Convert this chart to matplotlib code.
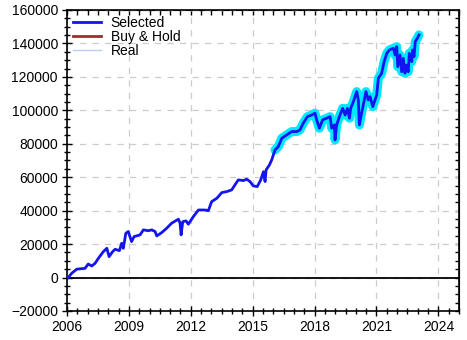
import matplotlib
matplotlib.use('Agg')
import matplotlib.pyplot as plt
from matplotlib.ticker import MultipleLocator, FixedLocator

plt.rcParams['font.family'] = ['Liberation Sans', 'DejaVu Sans']

# equity curve (decimal year, value)
years = [2006.06, 2006.23, 2006.47, 2006.87, 2007.03, 2007.20, 2007.36, 2007.52,
         2007.76, 2007.93, 2008.04, 2008.21, 2008.33, 2008.54, 2008.65, 2008.73,
         2008.85, 2008.97, 2009.13, 2009.25, 2009.54, 2009.70, 2009.94, 2010.11,
         2010.27, 2010.35, 2010.59, 2010.83, 2011.07, 2011.40, 2011.48, 2011.53,
         2011.61, 2011.77, 2011.88, 2012.12, 2012.37, 2012.69, 2012.85, 2013.01,
         2013.26, 2013.50, 2013.74, 2013.98, 2014.14, 2014.30, 2014.55, 2014.71,
         2014.87, 2015.03, 2015.22, 2015.39, 2015.52, 2015.60, 2015.65, 2015.81,
         2015.92, 2016.08, 2016.24, 2016.41, 2016.65, 2016.89, 2017.14, 2017.29,
         2017.45, 2017.65, 2017.86, 2018.02, 2018.10, 2018.23, 2018.39, 2018.59,
         2018.75, 2018.83, 2018.96, 2018.99, 2019.07, 2019.23, 2019.36, 2019.48,
         2019.59, 2019.69, 2019.75, 2019.88, 2020.04, 2020.12, 2020.17, 2020.28,
         2020.49, 2020.60, 2020.69, 2020.82, 2020.93, 2021.01, 2021.09, 2021.25,
         2021.37, 2021.50, 2021.62, 2021.82, 2021.90, 2021.98, 2022.03, 2022.14,
         2022.22, 2022.30, 2022.38, 2022.46, 2022.54, 2022.59, 2022.71, 2022.75,
         2022.82, 2022.88, 2022.98, 2023.06]
selected = [0, 2600, 5000, 5500, 8100, 6900, 8500, 11500,
            15500, 17500, 12500, 15500, 16900, 16100, 20500, 17500,
            26500, 27500, 21500, 24500, 25500, 28500, 28000, 28500,
            27500, 24900, 26900, 29500, 32500, 34900, 32500, 25500,
            33400, 33900, 31900, 36400, 40400, 40400, 40000, 45400,
            47400, 50800, 51400, 52400, 55400, 58400, 58000, 58800,
            57400, 54800, 54400, 58400, 63300, 57400, 64400, 67300,
            70300, 76300, 78300, 83300, 85300, 87300, 87300, 88300,
            92300, 96200, 97200, 98300, 94300, 89300, 94300, 95300,
            96200, 89300, 91300, 82300, 91300, 97200, 101200, 97200,
            101200, 95300, 101200, 105200, 111200, 106200, 91300, 98300,
            111200, 106200, 108200, 102200, 106200, 109200, 119200, 122200,
            129100, 134100, 136100, 137100, 133100, 138100, 126100, 133100,
            123100, 131100, 122200, 127100, 123100, 134100, 129100, 136100,
            132100, 141100, 143100, 145100]

x_ticks = [2006, 2009, 2012, 2015, 2018, 2021, 2024]
x_minor = [2006 + 0.5 * i for i in range(39)]

# highlighted stretch (cyan glow) starts here
highlight_start = 2015.95

fig = plt.figure(figsize=(4.67, 3.40), dpi=100)
ax = fig.add_axes([0.1435, 0.0853, 0.8394, 0.8853])

hx = [x for x in years if x >= highlight_start]
hy = [v for x, v in zip(years, selected) if x >= highlight_start]
ax.plot(hx, hy, color='#00e8ff', lw=6.5, solid_capstyle='round', solid_joinstyle='round', zorder=3)
ax.plot(years, selected, color='#1414f0', lw=2.0, zorder=4, label='Selected')
ax.plot([], [], color='#a52a2a', lw=2.0, label='Buy & Hold')
ax.plot([], [], color='#b9cdfa', lw=1.0, label='Real')

ax.axhline(0, color='black', lw=1.3, zorder=2)

ax.set_xlim(2006, 2025)
ax.set_ylim(-20000, 160000)
ax.xaxis.set_major_locator(FixedLocator(x_ticks))
ax.xaxis.set_minor_locator(FixedLocator(x_minor))
ax.yaxis.set_major_locator(MultipleLocator(20000))
ax.yaxis.set_minor_locator(MultipleLocator(5000))

ax.grid(True, which='major', color='#cccccc', linestyle=(0, (5, 5)), lw=0.9)
ax.set_axisbelow(True)
ax.tick_params(which='major', direction='inout', length=7, width=1, labelsize=10, pad=3)
ax.tick_params(which='minor', direction='inout', length=5, width=1)
for s in ax.spines.values():
    s.set_linewidth(1.2)

top = ax.secondary_xaxis('top')
top.xaxis.set_major_locator(FixedLocator(x_ticks))
top.xaxis.set_minor_locator(FixedLocator(x_minor))
top.tick_params(which='both', direction='in', labeltop=False, length=3.5, width=1)
right = ax.secondary_yaxis('right')
right.yaxis.set_major_locator(MultipleLocator(20000))
right.yaxis.set_minor_locator(MultipleLocator(5000))
right.tick_params(which='both', direction='in', labelright=False, length=3, width=1)

ax.legend(loc='upper left', frameon=False, fontsize=10, handlelength=2.0,
          handletextpad=0.7, labelspacing=0.0, borderaxespad=0.05,
          borderpad=0.4)

fig.savefig('out.png', dpi=100)
